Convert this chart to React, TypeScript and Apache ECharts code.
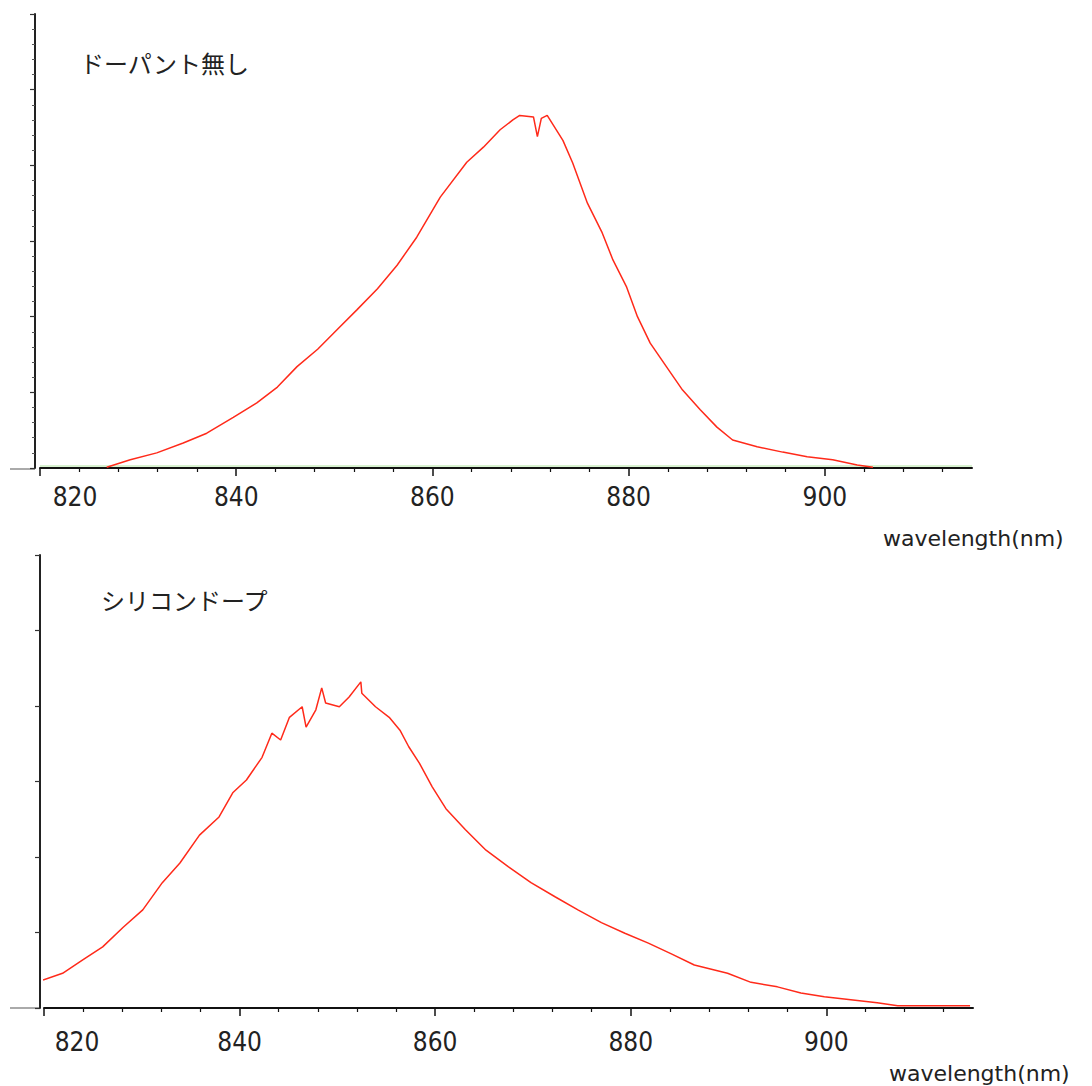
import React, { useEffect, useRef } from 'react';
import * as echarts from 'echarts';

const TICK_LABELS = [820, 840, 860, 880, 900];
const X_MIN = 820;
const X_MAX = 915;
const X_INTERVAL = 20;
const Y_MAX = 6;
const TOP_TITLE = 'ドーパント無し';
const BOTTOM_TITLE = 'シリコンドープ';
const AXIS_NAME = 'wavelength(nm)';

const TOP_WAVELENGTH = [
  826.8, 829.2, 831.9, 834.6, 837.0, 839.7, 842.1, 844.2, 846.2, 848.3, 850.3,
  852.3, 854.4, 856.4, 858.4, 860.8, 863.5, 865.2, 866.9, 868.2, 868.9, 870.3,
  870.7, 871.1, 871.7, 873.3, 874.3, 875.8, 877.3, 878.4, 879.8, 880.9, 882.2,
  883.9, 885.5, 887.3, 889.0, 890.6, 893.1, 895.7, 898.2, 900.8, 903.3, 904.9,
];
const TOP_INTENSITY = [
  0.01, 0.11, 0.2, 0.33, 0.46, 0.67, 0.86, 1.07, 1.34, 1.57, 1.83,
  2.09, 2.37, 2.68, 3.05, 3.58, 4.04, 4.24, 4.47, 4.6, 4.66, 4.64,
  4.38, 4.62, 4.66, 4.33, 4.03, 3.5, 3.11, 2.75, 2.39, 2.0, 1.65,
  1.33, 1.03, 0.77, 0.54, 0.37, 0.28, 0.21, 0.15, 0.11, 0.04, 0.01,
];

const BOTTOM_WAVELENGTH = [
  819.9, 821.9, 824.0, 826.0, 828.1, 830.1, 832.1, 833.9, 835.9, 837.9, 839.3,
  840.7, 842.3, 843.3, 844.2, 845.1, 846.4, 846.8, 847.8, 848.4, 848.8, 850.2,
  851.2, 852.4, 852.5, 853.9, 855.3, 856.4, 857.3, 858.4, 859.7, 861.1, 863.1,
  865.2, 867.5, 869.8, 872.3, 874.6, 877.0, 879.4, 881.8, 884.1, 886.5, 889.9,
  892.3, 895.0, 897.4, 899.8, 902.5, 905.2, 907.3, 909.3, 914.7,
];
const BOTTOM_INTENSITY = [
  0.37, 0.46, 0.64, 0.81, 1.07, 1.3, 1.66, 1.92, 2.29, 2.53, 2.85,
  3.02, 3.32, 3.64, 3.55, 3.85, 3.99, 3.72, 3.95, 4.24, 4.04, 3.99,
  4.12, 4.32, 4.17, 3.99, 3.85, 3.68, 3.46, 3.24, 2.93, 2.64, 2.36,
  2.09, 1.87, 1.66, 1.47, 1.3, 1.13, 0.99, 0.86, 0.72, 0.57, 0.46,
  0.34, 0.28, 0.2, 0.15, 0.11, 0.07, 0.03, 0.03, 0.03,
];

const zip = (xs: number[], ys: number[]) => xs.map((x, i) => [x, ys[i]]);

const LABEL_FONT = "'Liberation Sans Narrow', 'DejaVu Sans Condensed', sans-serif";
const CJK_FONT = "'Noto Sans CJK JP', sans-serif";

function majorX(gridIndex: number, margin: number, firstPad: number) {
  const base = { fontSize: 26, fontFamily: LABEL_FONT, color: '#222', lineHeight: 26 };
  return {
    gridIndex,
    type: 'value',
    position: 'bottom',
    min: X_MIN,
    max: X_MAX,
    interval: X_INTERVAL,
    axisLine: { show: true, onZero: false, lineStyle: { color: '#111', width: 2 } },
    axisTick: { show: true, customValues: TICK_LABELS, length: 8, lineStyle: { color: '#111', width: 1.5 } },
    minorTick: { show: true, splitNumber: 5, length: 4, lineStyle: { color: '#111', width: 1.2 } },
    axisLabel: {
      show: true,
      customValues: TICK_LABELS,
      margin,
      formatter: (v: number) => (v === TICK_LABELS[0] ? `{first|${v}}` : `{n|${v}}`),
      rich: {
        first: { ...base, padding: [0, 0, 0, firstPad] },
        n: { ...base },
      },
    },
    splitLine: { show: false },
  };
}

function yAx(gridIndex: number, offset: number, minor: boolean) {
  return {
    gridIndex,
    type: 'value',
    position: 'left',
    min: 0,
    max: Y_MAX,
    interval: 1,
    offset,
    axisLine: { show: true, onZero: false, lineStyle: { color: '#222', width: 2 } },
    axisTick: { show: true, length: 5, lineStyle: { color: '#333', width: 1.2 } },
    minorTick: { show: minor, splitNumber: 5, length: 3, lineStyle: { color: '#555', width: 1 } },
    axisLabel: { show: false },
    splitLine: { show: false },
  };
}

export default function App() {
  const ref = useRef<HTMLDivElement>(null);
  useEffect(() => {
    if (!ref.current) return;
    const chart = echarts.init(ref.current, undefined, { renderer: 'svg' });
    chart.setOption({
      animation: false,
      backgroundColor: '#ffffff',
      grid: [
        { left: 40, top: 14, width: 932, height: 454, containLabel: false, outerBoundsMode: 'none' },
        { left: 44, top: 555, width: 929, height: 453, containLabel: false, outerBoundsMode: 'none' },
      ],
      xAxis: [majorX(0, 16, 70), majorX(1, 21, 66)],
      yAxis: [yAx(0, 5, true), yAx(1, 4, false)],
      series: [
        {
          type: 'line',
          xAxisIndex: 0,
          yAxisIndex: 0,
          data: zip(TOP_WAVELENGTH, TOP_INTENSITY),
          showSymbol: false,
          lineStyle: { color: '#ff2a1a', width: 1.5 },
        },
        {
          type: 'line',
          xAxisIndex: 1,
          yAxisIndex: 1,
          data: zip(BOTTOM_WAVELENGTH, BOTTOM_INTENSITY),
          showSymbol: false,
          lineStyle: { color: '#ff2a1a', width: 1.5 },
        },
      ],
      graphic: [
        { type: 'text', left: 80, top: 50, style: { text: TOP_TITLE, fontSize: 24, fontFamily: CJK_FONT, fill: '#222' } },
        { type: 'text', left: 101, top: 587, style: { text: BOTTOM_TITLE, fontSize: 24, fontFamily: CJK_FONT, fill: '#222' } },
        { type: 'text', left: 883, top: 527, style: { text: AXIS_NAME, fontSize: 22, fontFamily: "'DejaVu Sans', sans-serif", fill: '#222' } },
        { type: 'text', left: 889, top: 1062, style: { text: AXIS_NAME, fontSize: 22, fontFamily: "'DejaVu Sans', sans-serif", fill: '#222' } },
        { type: 'line', shape: { x1: 10, y1: 469, x2: 35, y2: 469 }, style: { stroke: '#aaa', lineWidth: 2 } },
        { type: 'line', shape: { x1: 10, y1: 1008, x2: 40, y2: 1008 }, style: { stroke: '#aaa', lineWidth: 2 } },
        { type: 'line', shape: { x1: 40, y1: 466, x2: 972, y2: 466 }, style: { stroke: '#d8f2d0', lineWidth: 2 } },
      ],
    });
    return () => chart.dispose();
  }, []);
  return <div ref={ref} style={{ position: 'absolute', left: 0, top: 0, width: 1092, height: 1086 }} />;
}
